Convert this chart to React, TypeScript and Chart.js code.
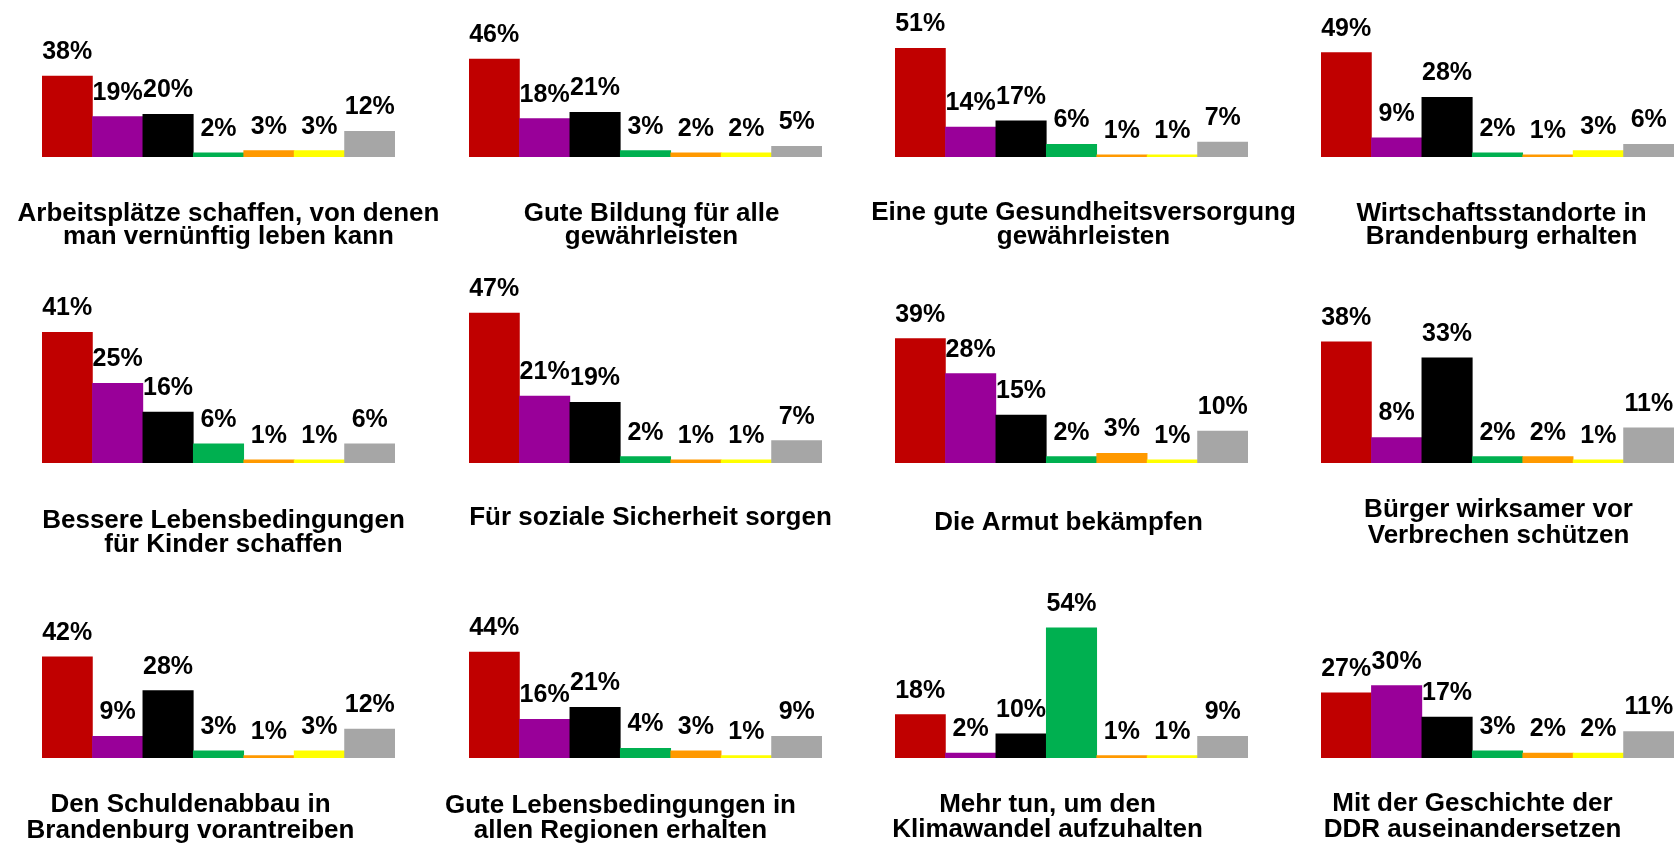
import React, { useEffect, useRef } from "react";
import { Chart, registerables } from "chart.js";

Chart.register(...registerables);

// ---------- data ----------
const parties = ["SPD", "DIE LINKE", "CDU", "GRÜNE", "FREIE WÄHLER", "FDP", "weiß nicht"];
const partyColors = ["#C00000", "#990099", "#000000", "#00B050", "#FF9900", "#FFFF00", "#A6A6A6"];

const arbeitsplaetze = [38, 19, 20, 2, 3, 3, 12];
const bildung = [46, 18, 21, 3, 2, 2, 5];
const gesundheit = [51, 14, 17, 6, 1, 1, 7];
const wirtschaft = [49, 9, 28, 2, 1, 3, 6];
const kinder = [41, 25, 16, 6, 1, 1, 6];
const sozialeSicherheit = [47, 21, 19, 2, 1, 1, 7];
const armut = [39, 28, 15, 2, 3, 1, 10];
const verbrechen = [38, 8, 33, 2, 2, 1, 11];
const schulden = [42, 9, 28, 3, 1, 3, 12];
const regionen = [44, 16, 21, 4, 3, 1, 9];
const klima = [18, 2, 10, 54, 1, 1, 9];
const ddr = [27, 30, 17, 3, 2, 2, 11];

const panelValues = [
  arbeitsplaetze, bildung, gesundheit, wirtschaft,
  kinder, sozialeSicherheit, armut, verbrechen,
  schulden, regionen, klima, ddr,
];

const panelTitles = [
  ["Arbeitsplätze schaffen, von denen", "man vernünftig leben kann"],
  ["Gute Bildung für alle", "gewährleisten"],
  ["Eine gute Gesundheitsversorgung", "gewährleisten"],
  ["Wirtschaftsstandorte in", "Brandenburg erhalten"],
  ["Bessere Lebensbedingungen", "für Kinder schaffen"],
  ["Für soziale Sicherheit sorgen"],
  ["Die Armut bekämpfen"],
  ["Bürger wirksamer vor", "Verbrechen schützen"],
  ["Den Schuldenabbau in", "Brandenburg vorantreiben"],
  ["Gute Lebensbedingungen in", "allen Regionen erhalten"],
  ["Mehr tun, um den", "Klimawandel aufzuhalten"],
  ["Mit der Geschichte der", "DDR auseinandersetzen"],
];

// ---------- layout ----------
const FONT = "'Liberation Sans', Arial, Helvetica, sans-serif";
const colLeft = [42, 469, 895, 1321];
const barsWidth = 353;
const canvasPadLeft = 50;
const canvasWidth = 460;
const rows = [
  { top: 0, height: 260, base: 157, pxPerPct: 2.13 },
  { top: 260, height: 300, base: 463, pxPerPct: 3.19 },
  { top: 560, height: 283, base: 758, pxPerPct: 2.41 },
];
const padTop = 20;
const titleDx = [10, 6, 12, 4, 5, 5, -3, 1, -28, -25, -24, -25];
const titleDy = [64, 64, 63, 64, 65, 62, 67, 54, 54, 55, 54, 53];
const titleLh = [23, 23, 24, 23, 24, 24, 24, 26, 26, 25, 25, 26];

type PanelProps = { idx: number };

function Panel({ idx }: PanelProps) {
  const ref = useRef<HTMLCanvasElement | null>(null);
  const row = rows[Math.floor(idx / 4)];
  const col = idx % 4;
  const left = colLeft[col] - canvasPadLeft;

  useEffect(() => {
    if (!ref.current) return;
    const chartHeight = row.base - row.top - padTop;
    const yMax = chartHeight / row.pxPerPct;
    const values = panelValues[idx];
    const lines = panelTitles[idx];

    const labelsPlugin = {
      id: "valueLabels" + idx,
      afterDatasetsDraw(chart: any) {
        const ctx = chart.ctx;
        const meta = chart.getDatasetMeta(0);
        ctx.save();
        ctx.font = `bold 25px ${FONT}`;
        ctx.fillStyle = "#000";
        ctx.textAlign = "center";
        ctx.textBaseline = "alphabetic";
        meta.data.forEach((bar: any, i: number) => {
          ctx.fillText(values[i] + "%", bar.x, bar.y - 17);
        });
        ctx.restore();
      },
    };

    const titlePlugin = {
      id: "panelTitle" + idx,
      afterDraw(chart: any) {
        const ctx = chart.ctx;
        const a = chart.chartArea;
        const cx = (a.left + a.right) / 2 + titleDx[idx];
        ctx.save();
        ctx.font = `bold 26px ${FONT}`;
        ctx.fillStyle = "#000";
        ctx.textAlign = "center";
        ctx.textBaseline = "alphabetic";
        lines.forEach((line, i) => {
          ctx.fillText(line, cx, a.bottom + titleDy[idx] + i * titleLh[idx]);
        });
        ctx.restore();
      },
    };

    const chart = new Chart(ref.current, {
      type: "bar",
      data: {
        labels: parties,
        datasets: [
          {
            data: values,
            backgroundColor: partyColors,
            borderWidth: 0,
            categoryPercentage: 1,
            barPercentage: 1,
          },
        ],
      },
      options: {
        animation: false,
        responsive: false,
        maintainAspectRatio: false,
        devicePixelRatio: 1,
        layout: {
          padding: {
            left: canvasPadLeft,
            right: canvasWidth - canvasPadLeft - barsWidth,
            top: padTop,
            bottom: row.top + row.height - row.base,
          },
        },
        scales: {
          x: { display: false, grid: { display: false } },
          y: { display: false, min: 0, max: yMax, grid: { display: false } },
        },
        plugins: {
          legend: { display: false },
          tooltip: { enabled: false },
          title: { display: false },
        },
      },
      plugins: [labelsPlugin, titlePlugin],
    });
    return () => chart.destroy();
  }, [idx]);

  return (
    <canvas
      ref={ref}
      width={canvasWidth}
      height={row.height}
      style={{
        position: "absolute",
        left,
        top: row.top,
        width: canvasWidth,
        height: row.height,
      }}
    />
  );
}

export default function App() {
  return (
    <div
      style={{
        position: "fixed",
        left: 0,
        top: 0,
        width: 1679,
        height: 843,
        overflow: "hidden",
        background: "#ffffff",
      }}
    >
      {panelValues.map((_, i) => (
        <Panel key={i} idx={i} />
      ))}
    </div>
  );
}
